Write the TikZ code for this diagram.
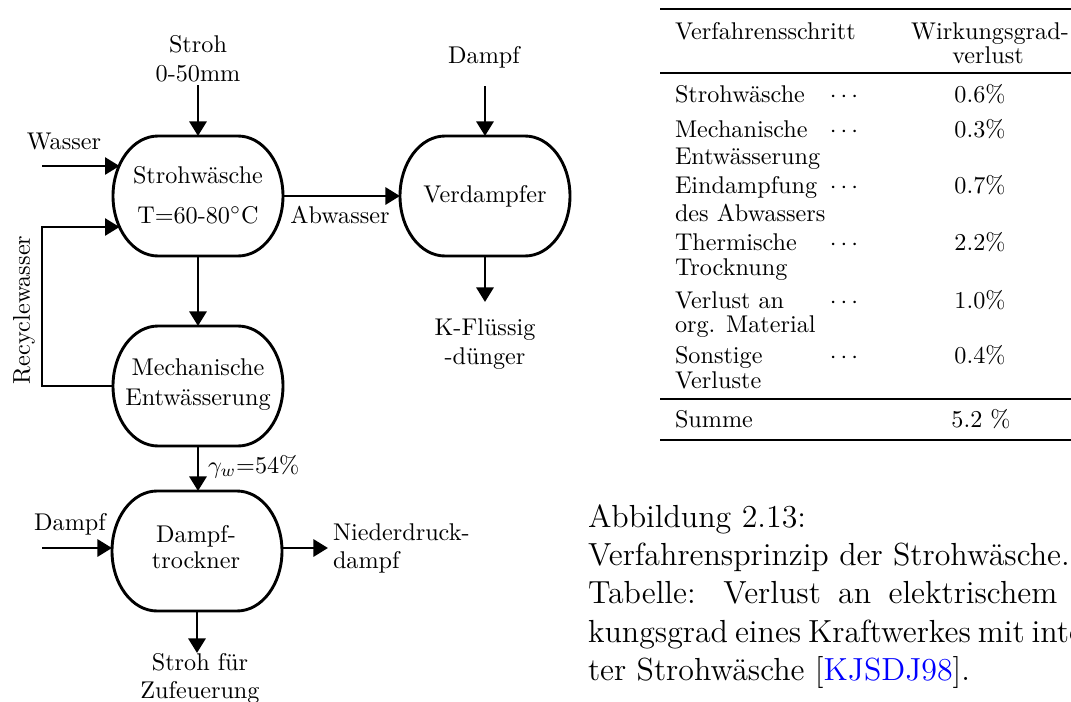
\documentclass[tikz,border=0pt]{standalone}
\usetikzlibrary{arrows.meta}
\newcommand\procoutline[1]{%
  \draw[strokeline] ([xshift=18.59pt]#1.north west) -- ([xshift=-18.59pt]#1.north east)
    arc[start angle=90,end angle=-90,x radius=18.59pt,y radius=24.79pt]
    -- ([xshift=18.59pt]#1.south west)
    arc[start angle=270,end angle=90,x radius=18.59pt,y radius=24.79pt] -- cycle;}
\begin{document}
\begin{tikzpicture}[x=0.4132pt,y=-0.4132pt,
  every node/.style={inner sep=0pt,outer sep=0pt},
  strokeline/.style={line width=1.2pt},
  flow/.style={line width=1.2pt,-{Triangle[length=6pt,width=7pt]}},
  box/.style={minimum width=70.24pt,minimum height=49.58pt},
  lbl/.style={anchor=base,font=\fontsize{10}{12}\selectfont},
  lblw/.style={anchor=base west,font=\fontsize{10}{12}\selectfont},
  capline/.style={anchor=base west,font=\fontsize{13.2}{15.8}\selectfont},
  toprule/.style={line width=0.8pt},
  midrule/.style={line width=0.5pt},
]
\useasboundingbox (0,0) rectangle (1071,702);
\clip (0,0) rectangle (1071,702);

% process boxes
\node[box] (S) at (198,196) {};
\node[box] (V) at (485,196) {};
\node[box] (M) at (198,386) {};
\node[box] (D) at (197,551) {};
\procoutline{S}
\procoutline{V}
\procoutline{M}
\procoutline{D}

\node[lbl] (s1) at (198,183) {Strohwäsche};
\node[lbl] (s2) at (198,223) {T=60-80\(^\circ\)C};
\node[lbl] (v1) at (485,202) {Verdampfer};
\node[lbl] (m1) at (198,375) {Mechanische};
\node[lbl] (m2) at (198,405) {Entwässerung};
\node[lbl] (d1) at (196,542) {Dampf-};
\node[lbl] (d2) at (196,568) {trockner};

% inputs / outputs
\node[lbl] (stroh1) at (198,52) {Stroh};
\node[lbl] (stroh2) at (198,81) {0-50mm};
\coordinate (strohin) at (198,85);
\draw[flow] (strohin) -- (S.north);

\node[lbl] (wasser) at (64,149) {Wasser};
\coordinate (win) at (42,166);
\draw[flow] (win) -- ([xshift=2.7pt]S.west |- win);

\coordinate (rc1) at (42,386);
\coordinate (rc2) at (42,227);
\draw[flow] (M.west) -- (rc1) -- (rc2) -- ([xshift=2.7pt]S.west |- rc2);
\node[font=\fontsize{10}{12}\selectfont,rotate=90] (recyc) at (24,310) {Recyclewasser};

\draw[flow] (S.east) -- (V.west);
\node[lbl] (abw) at (340,223) {Abwasser};

\node[lbl] (dampf1) at (484,63) {Dampf};
\coordinate (din) at (485,86);
\draw[flow] (din) -- (V.north);

\coordinate (kout) at (485,302);
\draw[flow] (V.south) -- (kout);
\node[lbl] (k1) at (485,335) {K-Flüssig};
\node[lbl] (k2) at (485,364) {-dünger};

\draw[flow] (S.south) -- (M.north);
\draw[flow] (M.south) -- (M.south |- D.north);
\node[lblw] (gam) at (208,473) {\(\gamma_w\)=54\%};

\node[lbl] (dampf2) at (70,530) {Dampf};
\coordinate (dl) at (42,548);
\draw[flow] (dl) -- (D.west |- dl);
\coordinate (nd) at (328,548);
\draw[flow] (D.east |- nd) -- (nd);
\node[lblw] (n1) at (333,540) {Niederdruck-};
\node[lblw] (n2) at (333,568) {dampf};

\coordinate (sf) at (197,653);
\draw[flow] (D.south) -- (sf);
\node[lbl] (sf1) at (200,670) {Stroh für};
\node[lbl] (sf2) at (200,698) {Zufeuerung};

% table
\draw[toprule] (660,9) -- (1090,9);
\draw[midrule] (660,73) -- (1090,73);
\draw[midrule] (660,399) -- (1090,399);
\draw[toprule] (660,440) -- (1090,440);

\node[lblw] (h1) at (675,39) {Verfahrensschritt};
\node[lbl] (h2) at (990,39) {Wirkungsgrad-};
\node[lbl] (h3) at (988,63) {verlust};

\node[lblw] (r1) at (675,102) {Strohwäsche};
\node[lbl] (r1d) at (844,102) {\(\cdots\)};
\node[lbl] (r1v) at (980,102) {0.6\%};

\node[lblw] (r2) at (675,137) {Mechanische};
\node[lblw] (r2b) at (675,164) {Entwässerung};
\node[lbl] (r2d) at (844,137) {\(\cdots\)};
\node[lbl] (r2v) at (980,137) {0.3\%};

\node[lblw] (r3) at (675,193) {Eindampfung};
\node[lblw] (r3b) at (675,221) {des Abwassers};
\node[lbl] (r3d) at (844,193) {\(\cdots\)};
\node[lbl] (r3v) at (980,193) {0.7\%};

\node[lblw] (r4) at (675,250) {Thermische};
\node[lblw] (r4b) at (675,275) {Trocknung};
\node[lbl] (r4d) at (844,250) {\(\cdots\)};
\node[lbl] (r4v) at (980,250) {2.2\%};

\node[lblw] (r5) at (675,308) {Verlust an};
\node[lblw] (r5b) at (675,332) {org. Material};
\node[lbl] (r5d) at (844,308) {\(\cdots\)};
\node[lbl] (r5v) at (980,308) {1.0\%};

\node[lblw] (r6) at (675,363) {Sonstige};
\node[lblw] (r6b) at (675,388) {Verluste};
\node[lbl] (r6d) at (844,363) {\(\cdots\)};
\node[lbl] (r6v) at (980,363) {0.4\%};

\node[lblw] (sum) at (675,427) {Summe};
\node[lbl] (sumv) at (981,427) {5.2 \%};

% caption
\node[capline] (c1) at (588,527) {Abbildung 2.13:};
\node[capline] (c2) at (588,565) {Verfahrensprinzip der Strohwäsche.};
\node[capline] (c3) at (588,603) {\makebox[227.3pt][s]{Tabelle: Verlust an elektrischem Wir-}};
\node[capline] (c4) at (588,642) {\makebox[227.3pt][s]{kungsgrad eines Kraftwerkes mit integrier-}};
\node[capline] (c5) at (588,680) {ter Strohwäsche [\textcolor{blue}{KJSDJ98}].};
\end{tikzpicture}
\end{document}
